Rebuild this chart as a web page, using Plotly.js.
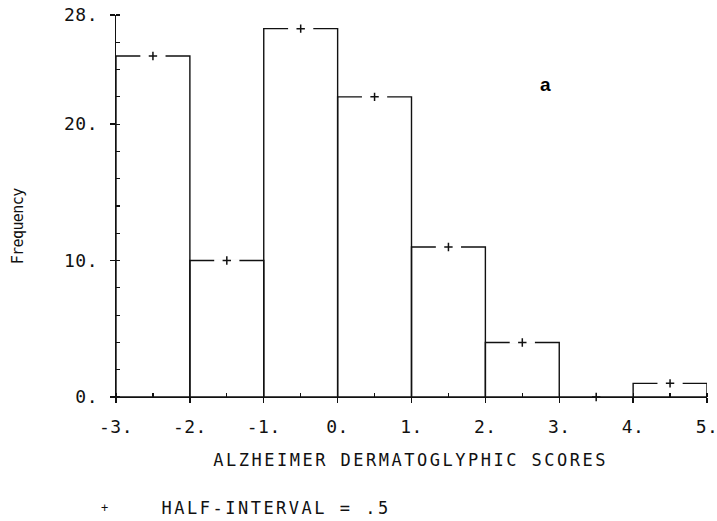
<!DOCTYPE html>
<html>
<head>
<meta charset="utf-8">
<script src="https://cdn.plot.ly/plotly-3.0.1.min.js"></script>
<style>
  html, body { margin: 0; padding: 0; background: #fff; }
  #chart { width: 717px; height: 521px; }
  .xtick text { letter-spacing: 0.5px; }
  .ytick text { letter-spacing: 0.5px; }
  .annotation-text.wide { letter-spacing: 2.5px; }
  .annotation-text.tight { letter-spacing: -0.6px; }
</style>
</head>
<body>
<div id="chart"></div>
<script>
// ---- data ----
const binMids = [-2.5, -1.5, -0.5, 0.5, 1.5, 2.5, 3.5, 4.5];
const counts  = [25, 10, 27, 22, 11, 4, 0, 1];
const xTickVals = [-3, -2, -1, 0, 1, 2, 3, 4, 5];
const xTickText = ["-3.", "-2.", "-1.", "0.", "1.", "2.", "3.", "4.", "5."];
const yTickVals = [0, 10, 20, 28];
const yTickText = ["0.", "10.", "20.", "28."];
const xTitle = "ALZHEIMER DERMATOGLYPHIC SCORES";
const yTitle = "Frequency";
const noteText = "HALF-INTERVAL = .5";
const panelLabel = "a";

const FONT = "DejaVu Sans Mono";
const INK = "#111";

const gapX = binMids.filter((_, i) => counts[i] > 0);
const gapY = counts.filter(c => c > 0);

const traces = [
  {
    type: "bar",
    x: binMids,
    y: counts,
    width: 1,
    marker: { color: "rgba(255,255,255,0)", line: { color: INK, width: 1.4 } },
    cliponaxis: false,
    hoverinfo: "x+y"
  },
  {
    type: "scatter",
    mode: "markers",
    x: gapX,
    y: gapY,
    marker: { symbol: "line-ew", size: 18, color: "#fff", line: { color: "#fff", width: 3 } },
    cliponaxis: false,
    hoverinfo: "skip"
  },
  {
    type: "scatter",
    mode: "markers",
    x: binMids,
    y: counts,
    marker: { symbol: "cross-thin", size: 6, color: INK, line: { color: INK, width: 1.5 } },
    cliponaxis: false,
    hoverinfo: "x+y"
  }
];

const layout = {
  width: 717,
  height: 521,
  margin: { l: 116, r: 10, t: 15, b: 124 },
  paper_bgcolor: "#fff",
  plot_bgcolor: "#fff",
  showlegend: false,
  font: { family: FONT, color: INK, size: 18 },
  xaxis: {
    range: [-3, 5],
    tickmode: "array",
    tickvals: xTickVals,
    ticktext: xTickText,
    ticks: "outside",
    ticklen: 5,
    tickwidth: 1.4,
    tickcolor: INK,
    ticklabelstandoff: 8,
    ticklabeloverflow: "allow",
    showline: true,
    linecolor: INK,
    linewidth: 1.4,
    showgrid: false,
    zeroline: false,
    tickfont: { family: FONT, size: 18, color: INK },
    minor: { ticks: "inside", tick0: -3, dtick: 0.5, ticklen: 4, tickwidth: 1.2, tickcolor: INK, showgrid: false }
  },
  yaxis: {
    range: [0, 28],
    tickmode: "array",
    tickvals: yTickVals,
    ticktext: yTickText,
    ticks: "outside",
    ticklen: 5,
    tickwidth: 1.4,
    tickcolor: INK,
    ticklabelstandoff: 8,
    ticklabeloverflow: "allow",
    showline: true,
    linecolor: INK,
    linewidth: 1.4,
    showgrid: false,
    zeroline: false,
    tickfont: { family: FONT, size: 18, color: INK },
    minor: { ticks: "inside", tick0: 0, dtick: 2, ticklen: 4, tickwidth: 1.2, tickcolor: INK, showgrid: false }
  },
  annotations: [
    {
      text: xTitle, xref: "paper", yref: "paper", x: (410 - 116) / 591, y: (397 - 460) / 382,
      xanchor: "center", yanchor: "middle", showarrow: false,
      font: { family: FONT, size: 17, color: INK }
    },
    {
      text: yTitle, xref: "paper", yref: "paper", x: (18 - 116) / 591, y: (397 - 227) / 382,
      xanchor: "center", yanchor: "middle", showarrow: false, textangle: -90,
      font: { family: FONT, size: 15, color: INK }
    },
    {
      text: "+", xref: "paper", yref: "paper", x: (104 - 116) / 591, y: (397 - 508) / 382,
      xanchor: "center", yanchor: "middle", showarrow: false,
      font: { family: FONT, size: 12, color: INK }
    },
    {
      text: noteText, xref: "paper", yref: "paper", x: (276 - 116) / 591, y: (397 - 508) / 382,
      xanchor: "center", yanchor: "middle", showarrow: false,
      font: { family: FONT, size: 17, color: INK }
    },
    {
      text: "<b>" + panelLabel + "</b>", xref: "paper", yref: "paper", x: (545 - 116) / 591, y: (397 - 84) / 382,
      xanchor: "center", yanchor: "middle", showarrow: false,
      font: { family: "Liberation Sans", size: 19, color: "#000" }
    }
  ]
};

Plotly.newPlot("chart", traces, layout, { staticPlot: true, displayModeBar: false }).then(function () {
  // plotter-style lettering: widen the long captions, tighten the rotated label
  const anns = document.querySelectorAll(".annotation-text");
  anns.forEach(function (el) {
    const t = el.textContent;
    if (t === xTitle || t === noteText) el.classList.add("wide");
    if (t === yTitle) el.classList.add("tight");
  });
});
</script>
</body>
</html>
